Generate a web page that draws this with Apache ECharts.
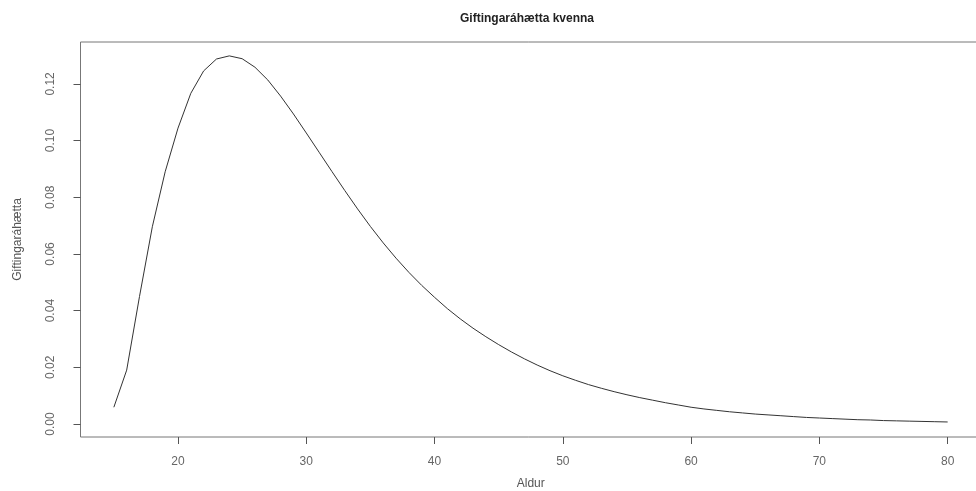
<!DOCTYPE html>
<html>
<head>
<meta charset="utf-8">
<script src="https://cdn.jsdelivr.net/npm/echarts@6/dist/echarts.min.js"></script>
<style>
html,body{margin:0;padding:0;background:#fff;}
#chart{width:976px;height:491px;}
</style>
</head>
<body>
<div id="chart"></div>
<script>
const ages = [15,16,17,18,19,20,21,22,23,24,25,26,27,28,29,30,31,32,33,34,35,36,37,38,39,40,
  41,42,43,44,45,46,47,48,49,50,51,52,53,54,55,56,57,58,59,60,61,62,63,64,65,66,67,68,69,70,
  71,72,73,74,75,76,77,78,79,80];
const hazard = [0.0059,0.0190,0.0450,0.0696,0.0890,0.1044,0.1167,0.1246,0.1288,0.1299,0.1289,0.1259,
  0.1214,0.1157,0.1094,0.1027,0.0959,0.0891,0.0824,0.0759,0.0697,0.0639,0.0585,0.0535,0.0489,0.0447,
  0.0407,0.0371,0.0338,0.0308,0.0280,0.0254,0.0230,0.0208,0.0188,0.0170,0.0154,0.0139,0.0126,0.0114,
  0.0103,0.0093,0.0084,0.0075,0.0067,0.0059,0.0053,0.0048,0.0043,0.0039,0.0035,0.0032,0.0029,0.0026,
  0.0023,0.0021,0.0019,0.0017,0.0015,0.0014,0.0012,0.0011,0.0010,0.0009,0.0008,0.0007];
const xTicks = [20,30,40,50,60,70,80];
const yTicks = [0,0.02,0.04,0.06,0.08,0.10,0.12];
const titleText = 'Giftingaráhætta kvenna';
const xName = 'Aldur';
const yName = 'Giftingaráhætta';

const chart = echarts.init(document.getElementById('chart'), null, {renderer:'canvas'});
const font = 'Liberation Sans, Arial, sans-serif';
chart.setOption({
  animation: false,
  backgroundColor: '#fff',
  title: {
    text: titleText, left: 522, top: 8, textAlign: 'center',
    textStyle: {fontFamily: font, fontSize: 12, fontWeight: 'bold', color: '#222'}
  },
  grid: {left: 80.5, width: 900.5, top: 42, height: 395, outerBoundsMode: 'none', containLabel: false,
    show: true, borderColor: '#777', borderWidth: 1, backgroundColor: 'transparent'},
  xAxis: {
    type: 'value', min: 12.4, max: 82.6,
    name: xName, nameLocation: 'middle', nameGap: 41,
    nameTextStyle: {fontFamily: font, fontSize: 12, color: '#555'},
    axisLine: {show: false, onZero: false},
    splitLine: {show: false},
    axisTick: {show: true, inside: false, length: 7, lineStyle: {color: '#555'}, customValues: xTicks},
    axisLabel: {customValues: xTicks, margin: 19, fontFamily: font, fontSize: 12, color: '#666'}
  },
  yAxis: {
    type: 'value', min: -0.0046, max: 0.1348,
    name: yName, nameLocation: 'middle', nameGap: 57, nameRotate: 90,
    nameTextStyle: {fontFamily: font, fontSize: 12, color: '#555'},
    axisLine: {show: false, onZero: false},
    splitLine: {show: false},
    axisTick: {show: true, inside: false, length: 7, lineStyle: {color: '#555'}, customValues: yTicks},
    axisLabel: {customValues: yTicks, rotate: 90, margin: 24, fontFamily: font, fontSize: 12, color: '#666',
      formatter: v => v.toFixed(2)}
  },
  series: [{
    type: 'line',
    data: ages.map((a, i) => [a, hazard[i]]),
    showSymbol: false,
    smooth: false,
    lineStyle: {color: '#333', width: 1},
    clip: true
  }]
});
</script>
</body>
</html>
